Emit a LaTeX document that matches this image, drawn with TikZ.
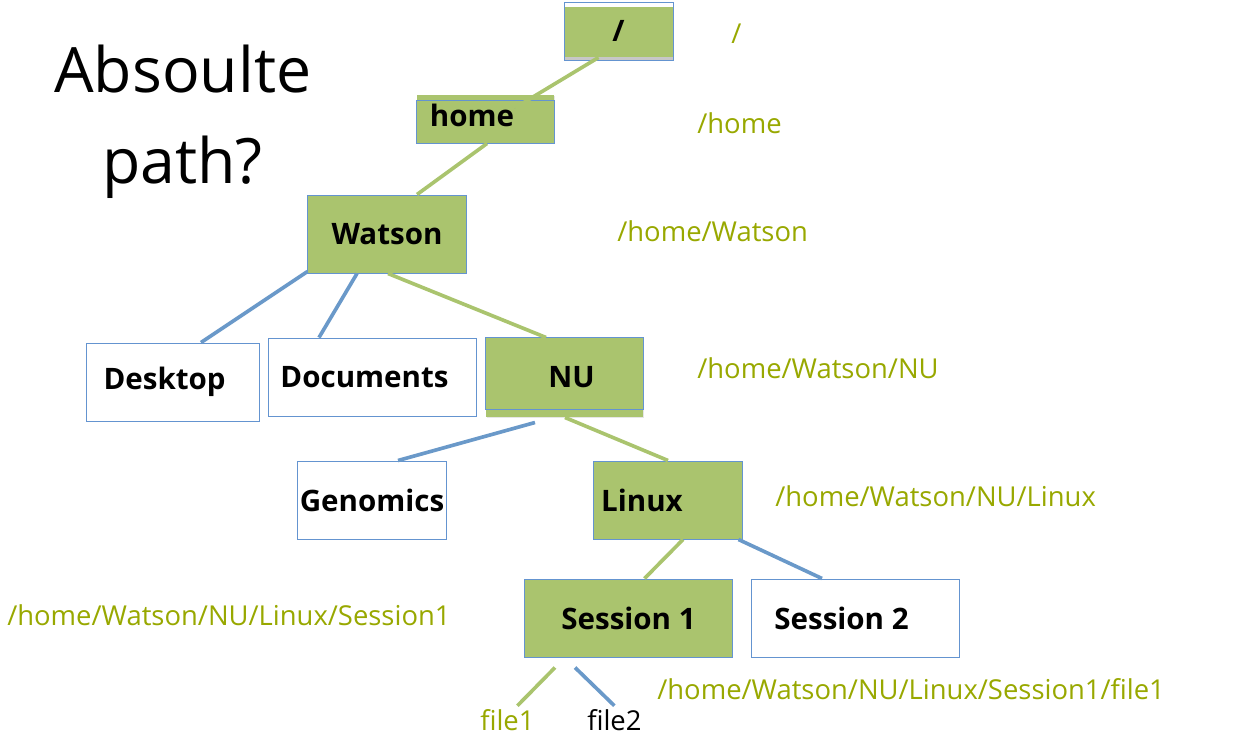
\documentclass[tikz,border=0pt]{standalone}
\usepackage{fontspec}
\setmainfont{Open Sans}
\usetikzlibrary{calc, shadows}
\definecolor{boxgreen}{RGB}{170,196,110}
\definecolor{boxblue}{RGB}{100,148,208}
\definecolor{linkblue}{RGB}{106,153,201}
\definecolor{pathgreen}{RGB}{152,168,0}
\tikzset{
    dir/.style={draw=boxblue, line width=0.7pt, inner sep=0pt,
      font=\fontsize{21}{25}\selectfont\bfseries,
      drop shadow={opacity=0.2, shadow xshift=0.7pt, shadow yshift=-0.7pt}},
    cwd/.style={dir, fill=boxgreen},
    other/.style={dir, fill=white},
    greenlink/.style={boxgreen, line width=2.6pt},
    bluelink/.style={linkblue, line width=2.6pt},
    abspath/.style={pathgreen, font=\fontsize{19.5}{23}\selectfont, anchor=base west, inner sep=0pt},
    bigtext/.style={font=\fontsize{44.5}{50}\selectfont, anchor=base west, inner sep=0pt}
}
\begin{document}
\begin{tikzpicture}[x=0.025cm, y=-0.025cm]
  \useasboundingbox (0,0) rectangle (1241,738);
  \node [bigtext] (title1) at (54,92) {Absoulte};
  \node [bigtext] (title2) at (102,183) {path?};
  % directory boxes
  \node [cwd, minimum width=2.725cm, minimum height=1.45cm,
    path picture={
      \fill [white] (path picture bounding box.north west) rectangle ([yshift=-0.13cm]path picture bounding box.north east);
      \fill [black!22] ([yshift=0.08cm]path picture bounding box.south west) rectangle (path picture bounding box.south east);
    }] (root) at (618.5,31) {/};
  \node [cwd, draw=none, minimum width=3.425cm, minimum height=1.2cm] (home) at (485.5,119) {};
  \draw [boxblue, line width=0.7pt] ($(home.north west)+(0,6)$) rectangle (home.south east);
  \node [inner sep=0pt, font=\fontsize{21}{25}\selectfont\bfseries] (homename) at (472,115) {home};
  \node [cwd, minimum width=3.95cm, minimum height=1.95cm] (watson) at (387,234) {\raisebox{-0.06cm}{Watson}};
  \node [other, minimum width=4.3cm, minimum height=1.95cm] (desktop) at (173,382) {\raisebox{-0.06cm}{Desktop}\kern0.42cm};
  \node [other, minimum width=5.175cm, minimum height=1.95cm] (documents) at (372.5,377) {\raisebox{-0.06cm}{Documents}\kern0.4cm};
  \node [cwd, draw=none, minimum width=3.925cm, minimum height=1.975cm] (nu) at (564.5,377.5) {\kern0.35cm NU};
  \draw [boxblue, line width=0.7pt] (nu.north west) rectangle ($(nu.south east)+(0,-8)$);
  \node [other, minimum width=3.7cm, minimum height=1.95cm] (genomics) at (372,500) {Genomics};
  \node [cwd, minimum width=3.7cm, minimum height=1.95cm] (linux) at (668,500) {Linux\kern1.3cm};
  \node [cwd, minimum width=5.175cm, minimum height=1.95cm] (session1) at (628.5,618) {Session 1};
  \node [other, minimum width=5.175cm, minimum height=1.95cm] (session2) at (855.5,618) {Session 2\kern0.7cm};
  % files
  \node [abspath] (file1) at (480,730) {file1};
  \node [abspath, text=black] (file2) at (587,730) {file2};
  % absolute paths
  \node [abspath] (p0) at (731,43) {/};
  \node [abspath] (p1) at (697,133) {/home};
  \node [abspath] (p2) at (617,241) {/home/Watson};
  \node [abspath] (p3) at (697,378) {/home/Watson/NU};
  \node [abspath] (p4) at (775,506) {/home/Watson/NU/Linux};
  \node [abspath] (p5) at (7,625) {/home/Watson/NU/Linux/Session1};
  \node [abspath] (p6) at (657,699) {/home/Watson/NU/Linux/Session1/file1};
  % links
  \draw [greenlink, drop shadow={opacity=0.3, shadow xshift=-1pt, shadow yshift=-1pt}] ($(root.south)+(-20,-3)$) -- ($(home.north)+(30,13)$);
  \draw [greenlink] ($(home.south)+(1.5,0)$) -- ($(watson.north)+(30,0)$);
  \draw [bluelink] ($(watson.south west)+(0,-2)$) -- ($(desktop.north)+(28,0)$);
  \draw [bluelink] ($(watson.south)+(-30,0)$) -- ($(documents.north)+(-53.5,0)$);
  \draw [greenlink] ($(watson.south)+(1,0)$) -- ($(nu.north)+(-18.5,0)$);
  \draw [bluelink] ($(nu.south)+(-29.5,5)$) -- ($(genomics.north)+(26,0)$);
  \draw [greenlink] ($(nu.south)+(0.5,0)$) -- (linux.north);
  \draw [greenlink] ($(linux.south)+(15,0)$) -- ($(session1.north)+(16,0)$);
  \draw [bluelink] ($(linux.south east)+(-4,0)$) -- ($(session2.north)+(-33.5,0)$);
  \draw [greenlink] ($(session1.south)+(-73.5,10)$) -- ($(file1.north)+(10,-3)$);
  \draw [bluelink] ($(session1.south)+(-53.5,10)$) -- ($(file2.north)+(0,-3)$);
\end{tikzpicture}
\end{document}
